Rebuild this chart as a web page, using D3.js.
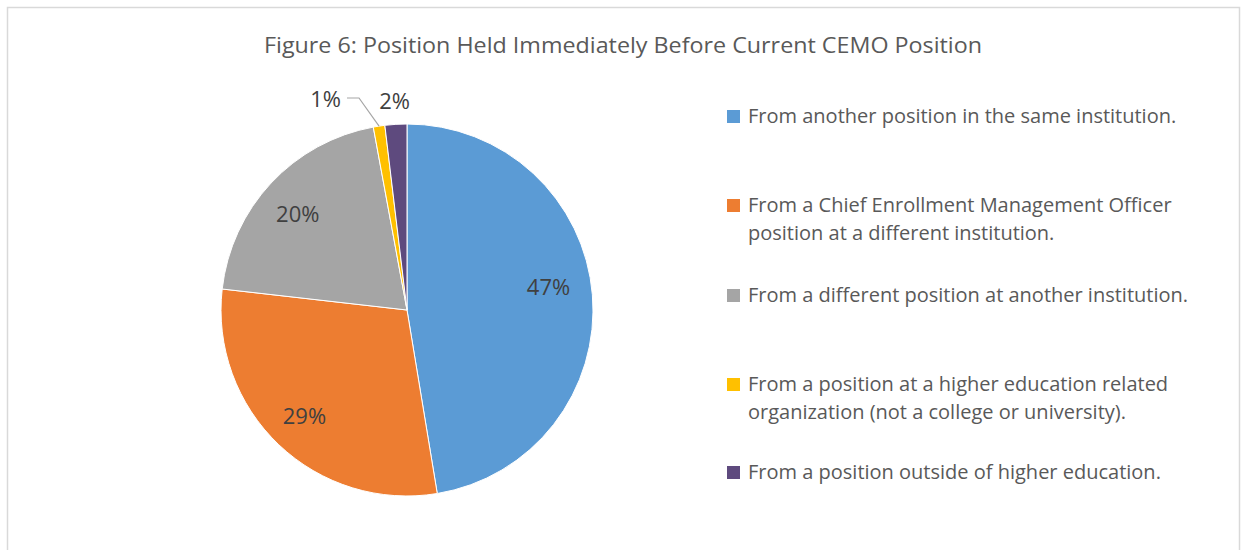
<!DOCTYPE html>
<html>
<head>
<meta charset="utf-8">
<script src="https://cdn.jsdelivr.net/npm/d3@7"></script>
<style>
  body { margin: 0; background: #fff; }
  text { font-family: "Open Sans", sans-serif; }
</style>
</head>
<body>
<div id="chart"></div>
<script>
const svgWidth = 1244
const svgHeight = 550

// data
const categories = [
  "From another position in the same institution.",
  "From a Chief Enrollment Management Officer position at a different institution.",
  "From a different position at another institution.",
  "From a position at a higher education related organization (not a college or university).",
  "From a position outside of higher education."
]
const values = [47.4, 29.4, 20.3, 1.0, 1.9]
const pctLabels = ["47%", "29%", "20%", "1%", "2%"]
const colors = ["#5b9bd5", "#ed7d31", "#a5a5a5", "#ffc000", "#5e4a7e"]

// legend lines (wrapped as in the figure)
const legendLines = [
  ["From another position in the same institution."],
  ["From a Chief Enrollment Management Officer", "position at a different institution."],
  ["From a different position at another institution."],
  ["From a position at a higher education related", "organization (not a college or university)."],
  ["From a position outside of higher education."]
]

let svg = d3.select("#chart")
  .append("svg")
  .attr("width", svgWidth)
  .attr("height", svgHeight)

// chart frame
svg.append("rect")
  .attr("x", 7.5)
  .attr("y", 7.5)
  .attr("width", 1232)
  .attr("height", 560)
  .attr("fill", "#fff")
  .attr("stroke", "#d9d9d9")
  .attr("stroke-width", 1.5)

svg.append("text")
  .attr("x", 623)
  .attr("y", 53)
  .attr("text-anchor", "middle")
  .attr("fill", "#595959")
  .style("font-size", "22px")
  .attr("textLength", 718)
  .attr("lengthAdjust", "spacingAndGlyphs")
  .text("Figure 6: Position Held Immediately Before Current CEMO Position")

const cx = 407, cy = 310, radius = 186

let pie = d3.pie().sort(null).value(d => d)
let arcs = pie(values)
let arc = d3.arc().innerRadius(0).outerRadius(radius)

let pieGroup = svg.append("g")
  .attr("transform", `translate(${cx}, ${cy})`)

pieGroup.selectAll("path")
  .data(arcs)
  .enter()
  .append("path")
  .attr("d", arc)
  .attr("fill", (d, i) => colors[i])
  .attr("stroke", "#fff")
  .attr("stroke-width", 1)

// label radius per slice (outside for the two tiny ones) and small nudges
const labelRadius = [142, 146, 148, 209, 209]
const nudge = [[0, -11], [-2, 0], [-1, 5], [-50, -4], [0, 0]]

pieGroup.selectAll("text.pct")
  .data(arcs)
  .enter()
  .append("text")
  .attr("class", "pct")
  .attr("text-anchor", "middle")
  .attr("fill", "#404040")
  .style("font-size", "22px")
  .attr("transform", (d, i) => {
    let p = d3.arc().innerRadius(labelRadius[i]).outerRadius(labelRadius[i]).centroid(d)
    return `translate(${p[0] + nudge[i][0]}, ${p[1] + nudge[i][1] + 8})`
  })
  .text((d, i) => pctLabels[i])

// leader line for the 1% slice
let small = arcs[3]
let edge = d3.arc().innerRadius(radius).outerRadius(radius).centroid(small)
pieGroup.append("polyline")
  .attr("points", [[-60, -212], [-48, -212], [edge[0], edge[1]]].map(p => p.join(",")).join(" "))
  .attr("fill", "none")
  .attr("stroke", "#a6a6a6")
  .attr("stroke-width", 1.2)

// legend
const legendY = [116, 205, 295, 384, 472]
let legend = svg.append("g").attr("transform", "translate(727, 0)")

let items = legend.selectAll("g")
  .data(categories)
  .enter()
  .append("g")
  .attr("transform", (d, i) => `translate(0, ${legendY[i]})`)

items.append("rect")
  .attr("x", 0)
  .attr("y", -6)
  .attr("width", 13)
  .attr("height", 13)
  .attr("fill", (d, i) => colors[i])

items.each(function(d, i) {
  let t = d3.select(this).append("text")
    .attr("fill", "#595959")
    .style("font-size", "20px")
  legendLines[i].forEach((line, k) => {
    t.append("tspan")
      .attr("x", 21)
      .attr("y", 7 + k * 28)
      .text(line)
  })
})
</script>
</body>
</html>
